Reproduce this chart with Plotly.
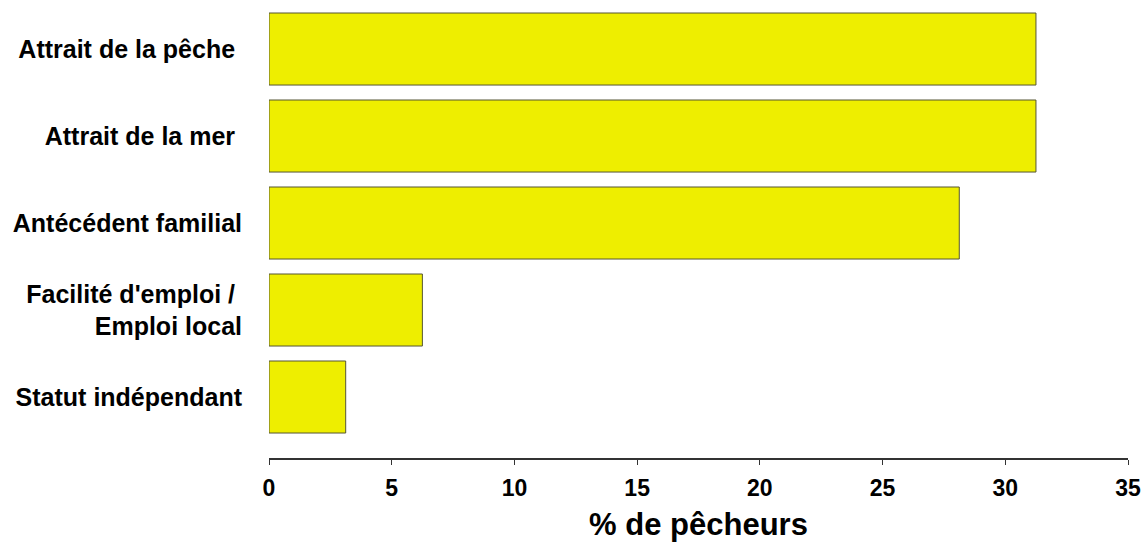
import plotly.graph_objects as go

categories = [
    "Statut indépendant",
    "Facilité d'emploi /\u00a0<br>Emploi local",
    "Antécédent familial",
    "Attrait de la mer\u00a0",
    "Attrait de la pêche\u00a0",
]
values = [3.125, 6.25, 28.125, 31.25, 31.25]
x_ticks = [0, 5, 10, 15, 20, 25, 30, 35]
x_title = "% de pêcheurs"

FONT = "Arial, 'Liberation Sans', sans-serif"

fig = go.Figure(
    go.Bar(
        x=values,
        y=categories,
        orientation="h",
        marker=dict(color="#EEEE00", line=dict(color="#555533", width=1)),
        hoverinfo="x+y",
    )
)

fig.update_layout(
    width=1145,
    height=542,
    margin=dict(l=269, r=17, t=5, b=84),
    plot_bgcolor="white",
    paper_bgcolor="white",
    bargap=0.172,
    showlegend=False,
    font=dict(family=FONT, color="black"),
)

fig.update_xaxes(
    range=[0, 35],
    tickvals=x_ticks,
    ticktext=[str(t) for t in x_ticks],
    automargin=False,
    showgrid=False,
    zeroline=False,
    showline=True,
    linecolor="#333333",
    linewidth=1.5,
    ticks="outside",
    ticklen=5,
    tickcolor="#333333",
    ticklabelstandoff=4,
    tickfont=dict(family=FONT, size=23, color="black", weight="bold"),
    title=dict(text=x_title, font=dict(family=FONT, size=31, color="black", weight="bold"), standoff=15),
)

fig.update_yaxes(
    categoryorder="array",
    categoryarray=categories,
    range=[-0.701, 4.506],
    automargin=False,
    showgrid=False,
    zeroline=False,
    showline=False,
    ticks="",
    ticklabelstandoff=26,
    tickfont=dict(family=FONT, size=25, color="black", weight="bold"),
)

fig.write_html(
    "out.html",
    config={"displayModeBar": False},
    post_script="document.body.style.margin='0';document.body.style.overflow='hidden';",
)
